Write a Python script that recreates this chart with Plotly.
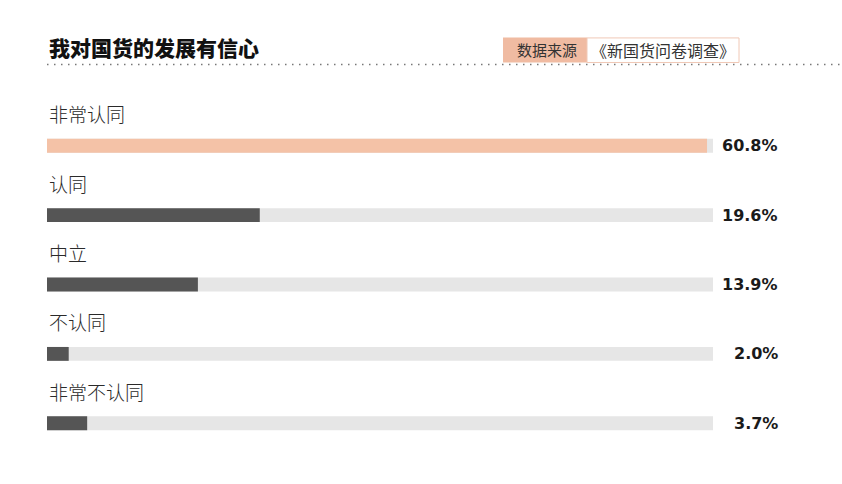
import plotly.graph_objects as go

categories = ["非常认同", "认同", "中立", "不认同", "非常不认同"]
values = [60.8, 19.6, 13.9, 2.0, 3.7]
value_labels = ["60.8%", "19.6%", "13.9%", "2.0%", "3.7%"]
bar_colors = ["#f4c2a7", "#555555", "#555555", "#555555", "#555555"]
title_text = "我对国货的发展有信心"
source_label = "数据来源"
source_name = "《新国货问卷调查》"

W, H = 842, 484
L, R = 47, 713
T, B = 111.4, 457.6
x_max = 61.35

def px(x):
    return (x - L) / (R - L)

def py(y):
    return (B - y) / (B - T)

fig = go.Figure()
fig.add_trace(go.Bar(
    y=categories, x=[x_max] * len(categories), orientation="h",
    marker=dict(color="#e6e6e6", line=dict(width=0)), width=0.2,
    hoverinfo="skip", showlegend=False))
fig.add_trace(go.Bar(
    y=categories, x=values, orientation="h",
    marker=dict(color=bar_colors, line=dict(width=0)), width=0.2,
    showlegend=False))

annotations = []
for c, lab in zip(categories, value_labels):
    annotations.append(dict(
        x=px(780), xref="paper", y=c, yref="y", text=lab, showarrow=False,
        xanchor="right", yanchor="middle",
        font=dict(family="DejaVu Sans", size=16, color="#1a1a1a", weight="bold")))
    annotations.append(dict(
        x=0, xref="paper", y=c, yref="y", yshift=32, text=c, showarrow=False,
        xanchor="left", yanchor="middle",
        font=dict(family="Noto Sans CJK SC", size=19, color="#2a2a2a", weight=300)))

annotations.append(dict(
    x=0, xref="paper", y=py(48), yref="paper", text=title_text, showarrow=False,
    xanchor="left", yanchor="middle",
    font=dict(family="Noto Sans CJK SC", size=21, color="#111111", weight=900)))
annotations.append(dict(
    x=px(547), xref="paper", y=py(50.5), yref="paper", text=source_label, showarrow=False,
    xanchor="center", yanchor="middle",
    font=dict(family="Noto Sans CJK SC", size=15, color="#333333")))
annotations.append(dict(
    x=px(663), xref="paper", y=py(50.5), yref="paper", text=source_name, showarrow=False,
    xanchor="center", yanchor="middle",
    font=dict(family="Noto Sans CJK SC", size=16, color="#333333")))

shapes = [
    dict(type="rect", xref="paper", yref="paper", x0=px(503), x1=px(587),
         y0=py(63), y1=py(38), fillcolor="#f0bba2", line=dict(width=0), layer="below"),
    dict(type="rect", xref="paper", yref="paper", x0=px(587), x1=px(739),
         y0=py(63), y1=py(38.5), fillcolor="#ffffff",
         line=dict(width=1, color="#f0c8b6"), layer="below"),
    dict(type="line", xref="paper", yref="paper", x0=px(47), x1=px(842),
         y0=py(65), y1=py(65), line=dict(width=1.5, color="#777777", dash="1.5px,5.5px")),
]

fig.update_layout(
    width=W, height=H,
    margin=dict(l=L, r=W - R, t=T, b=H - B, pad=0),
    paper_bgcolor="#ffffff", plot_bgcolor="#ffffff",
    barmode="overlay",
    xaxis=dict(range=[0, x_max], visible=False, fixedrange=True),
    yaxis=dict(categoryorder="array", categoryarray=categories,
               autorange=False, range=[4.5, -0.5], visible=False, fixedrange=True),
    annotations=annotations, shapes=shapes,
)
fig.write_html("out.html", config={"displayModeBar": False},
               post_script="document.body.style.margin='0';")
